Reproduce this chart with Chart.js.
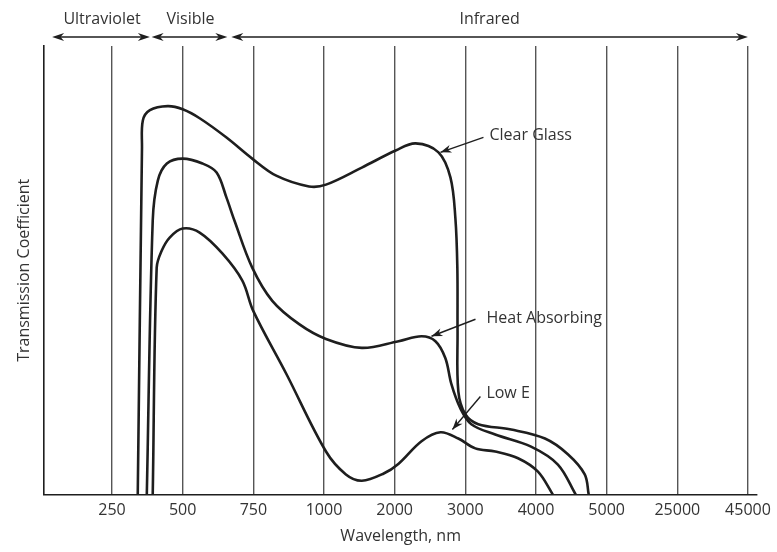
<!DOCTYPE html>
<html>
<head>
<meta charset="utf-8">
<script src="https://cdn.jsdelivr.net/npm/chart.js@4.4.1/dist/chart.umd.min.js"></script>
<style>
  html, body { margin: 0; padding: 0; background: #fff; }
  #wrap { width: 777px; height: 552px; }
</style>
</head>
<body>
<div id="wrap"><canvas id="glassChart"></canvas></div>
<script>
// tick labels on the wavelength axis (nm), evenly spaced, not to scale
const tickLabels = ["250", "500", "750", "1000", "2000", "3000", "4000", "5000", "25000", "45000"];
const tickValues = [250, 500, 750, 1000, 2000, 3000, 4000, 5000, 25000, 45000];

// curves: wavelength (nm) and transmission (0-100)
const clearWl  = [341, 356, 359, 384, 447, 500, 560, 655, 746, 831, 947, 1028, 1535, 2014, 2296, 2620, 2789, 2859, 2887, 2890, 2901, 3000, 3183, 3648, 4127, 4451, 4690, 4746];
const clearVal = [0, 77.4, 83.4, 85.7, 86.6, 85.9, 83.9, 79.6, 74.9, 71.1, 68.7, 69.1, 72.9, 76.7, 78.3, 76.3, 70.7, 61.7, 50.6, 36.5, 23.0, 17.9, 15.7, 14.5, 12.5, 9.0, 4.5, 0];

const heatWl  = [373, 394, 412, 444, 500, 570, 620, 655, 683, 746, 817, 912, 1028, 1535, 2056, 2380, 2577, 2718, 2803, 2930, 3085, 3423, 3930, 4310, 4563];
const heatVal = [0, 61.1, 70.0, 73.8, 74.9, 73.8, 71.8, 66.2, 61.1, 50.6, 43.2, 38.0, 34.7, 32.7, 34.2, 35.3, 34.2, 30.4, 24.6, 19.2, 15.7, 13.4, 10.7, 6.7, 0];

const lowEWl  = [394, 408, 426, 454, 500, 560, 641, 711, 750, 866, 1028, 1310, 1535, 1845, 2056, 2380, 2648, 2901, 3141, 3423, 3746, 4028, 4239];
const lowEVal = [0, 50.6, 54.4, 57.3, 59.3, 58.4, 53.7, 47.7, 40.9, 27.0, 9.6, 4.5, 3.1, 4.7, 6.9, 11.9, 13.9, 12.5, 10.3, 9.6, 8.1, 5.1, 0];

// spectrum bands shown above the plot
const bandLabels = ["Ultraviolet", "Visible", "Infrared"];
const bandFrom = [38, 390, 672];
const bandTo = [384, 658, 45000];

// curve labels and the point each arrow points at
const noteText = ["Clear Glass", "Heat Absorbing", "Low E"];
const noteWl = [2648, 2521, 2817];
const noteVal = [76.3, 35.3, 14.5];
// label / arrow-tail offsets from the arrow tip, in px
const noteTextDx = [49, 55, 34], noteTextDy = [-17, -18, -36];
const noteTailDx = [43, 44, 28], noteTailDy = [-15, -17, -33];

const inkColor = "#1e1e1e";
const textColor = "#333";
const gridColor = "#555";
const fontFamily = "'Open Sans', sans-serif";

// wavelength -> position on the evenly spaced axis
function pos(wl) {
  let prevV = 0, prevP = 0;
  for (let i = 0; i < tickValues.length; i++) {
    const v = tickValues[i], p = i + 1;
    if (wl <= v) return prevP + (wl - prevV) / (v - prevV) * (p - prevP);
    prevV = v; prevP = p;
  }
  return tickValues.length + (wl - prevV) / 20000;
}

function toPoints(wl, val) {
  return wl.map((w, i) => ({ x: pos(w), y: val[i] }));
}

function arrowHead(ctx, x1, y1, x2, y2, len, half) {
  const a = Math.atan2(y2 - y1, x2 - x1);
  ctx.beginPath();
  ctx.moveTo(x2, y2);
  ctx.lineTo(x2 - len * Math.cos(a) + half * Math.sin(a), y2 - len * Math.sin(a) - half * Math.cos(a));
  ctx.lineTo(x2 - len * 0.7 * Math.cos(a), y2 - len * 0.7 * Math.sin(a));
  ctx.lineTo(x2 - len * Math.cos(a) - half * Math.sin(a), y2 - len * Math.sin(a) + half * Math.cos(a));
  ctx.closePath();
  ctx.fill();
}

const extrasPlugin = {
  id: "extras",
  afterDraw(chart) {
    const ctx = chart.ctx;
    const xs = chart.scales.x, ys = chart.scales.y;
    ctx.save();
    ctx.strokeStyle = inkColor;
    ctx.fillStyle = inkColor;
    ctx.lineWidth = 1.6;

    // bands on top
    const bandY = chart.chartArea.top - 9;
    bandLabels.forEach((lab, i) => {
      const x1 = xs.getPixelForValue(pos(bandFrom[i]));
      const x2 = xs.getPixelForValue(pos(bandTo[i]));
      ctx.beginPath();
      ctx.moveTo(x1 + 4, bandY);
      ctx.lineTo(x2 - 4, bandY);
      ctx.stroke();
      arrowHead(ctx, x2 - 10, bandY, x2, bandY, 12, 4);
      arrowHead(ctx, x1 + 10, bandY, x1, bandY, 12, 4);
      ctx.fillStyle = textColor;
      ctx.font = "16px " + fontFamily;
      ctx.textAlign = "center";
      ctx.textBaseline = "middle";
      const cx = i === 2 ? (x1 + x2) / 2 : (x1 + x2) / 2 + 1;
      ctx.fillText(lab, cx, bandY - 18);
      ctx.fillStyle = inkColor;
    });

    // curve labels
    noteText.forEach((t, i) => {
      const tx = xs.getPixelForValue(pos(noteWl[i]));
      const ty = ys.getPixelForValue(noteVal[i]);
      const sx = tx + noteTailDx[i], sy = ty + noteTailDy[i];
      ctx.lineWidth = 1.4;
      ctx.beginPath();
      ctx.moveTo(sx, sy);
      ctx.lineTo(tx, ty);
      ctx.stroke();
      arrowHead(ctx, sx, sy, tx, ty, 11, 4);
      ctx.fillStyle = textColor;
      ctx.font = "16px " + fontFamily;
      ctx.textAlign = "left";
      ctx.textBaseline = "middle";
      ctx.fillText(t, tx + noteTextDx[i], ty + noteTextDy[i]);
      ctx.fillStyle = inkColor;
    });
    ctx.restore();
  }
};

const lineStyle = {
  borderColor: inkColor,
  borderWidth: 2.6,
  pointRadius: 0,
  tension: 0.35,
  fill: false
};

const ctx = document.getElementById("glassChart").getContext("2d");
const glassChart = new Chart(ctx, {
  type: "line",
  data: {
    datasets: [
      { label: "Clear Glass", data: toPoints(clearWl, clearVal), ...lineStyle },
      { label: "Heat Absorbing", data: toPoints(heatWl, heatVal), ...lineStyle },
      { label: "Low E", data: toPoints(lowEWl, lowEVal), ...lineStyle }
    ]
  },
  options: {
    responsive: true,
    maintainAspectRatio: false,
    animation: false,
    layout: { padding: { top: 46, right: 13, left: 9, bottom: 6 } },
    scales: {
      x: {
        type: "linear",
        min: 0.04,
        max: 10.13,
        afterBuildTicks: (axis) => {
          axis.ticks = tickValues.map((v, i) => ({ value: i + 1 }));
        },
        ticks: {
          color: textColor,
          font: { family: fontFamily, size: 16 },
          padding: 6,
          maxRotation: 0,
          autoSkip: false,
          callback: (v) => tickLabels[Math.round(v) - 1]
        },
        grid: { color: gridColor, lineWidth: 1.4, drawTicks: false },
        border: { color: inkColor, width: 1.6 },
        title: {
          display: true,
          text: "Wavelength, nm",
          color: textColor,
          font: { family: fontFamily, size: 16 },
          padding: { top: 1, bottom: 0 }
        }
      },
      y: {
        min: 0,
        max: 100,
        ticks: { display: false },
        grid: { display: false, drawTicks: false },
        border: { color: inkColor, width: 1.6 },
        title: {
          display: true,
          text: "Transmission Coefficient",
          color: textColor,
          font: { family: fontFamily, size: 16 },
          padding: { top: 6, bottom: 10 }
        }
      }
    },
    plugins: {
      legend: { display: false },
      tooltip: { enabled: false }
    }
  },
  plugins: [extrasPlugin]
});
</script>
</body>
</html>
